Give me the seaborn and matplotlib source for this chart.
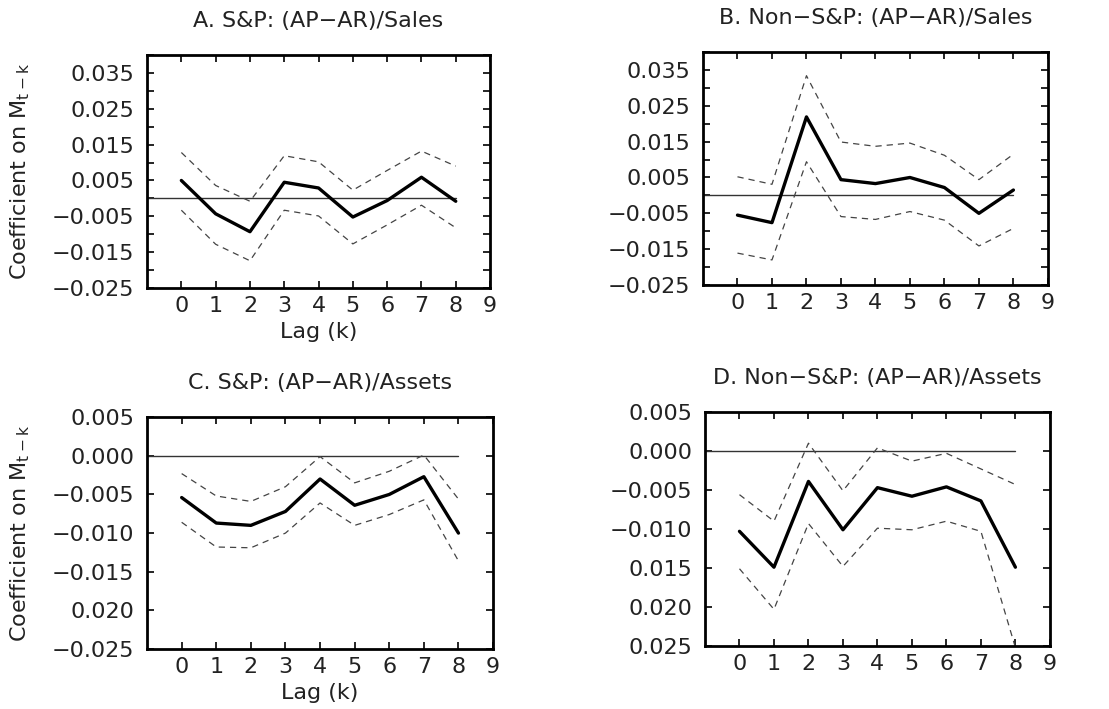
import numpy as np
import pandas as pd
import matplotlib
matplotlib.use("Agg")
import matplotlib.pyplot as plt
import seaborn as sns

sns.set_style("ticks")
plt.rcParams['font.family'] = ['DejaVu Sans']
plt.rcParams['mathtext.default'] = 'regular'

lags = [0, 1, 2, 3, 4, 5, 6, 7, 8]

# Panel A: S&P (AP-AR)/Sales
a_coef = [0.0050, -0.0043, -0.0093, 0.0045, 0.0029, -0.0052, -0.0006, 0.0059, -0.0008]
a_up = [0.0128, 0.0036, -0.0008, 0.0119, 0.0102, 0.0023, 0.0078, 0.0132, 0.0090]
a_lo = [-0.0033, -0.0128, -0.0174, -0.0033, -0.0049, -0.0127, -0.0074, -0.0019, -0.0082]

# Panel B: Non-S&P (AP-AR)/Sales
b_coef = [-0.0055, -0.0076, 0.0219, 0.0044, 0.0033, 0.0050, 0.0022, -0.0050, 0.0015]
b_up = [0.0052, 0.0031, 0.0334, 0.0149, 0.0137, 0.0146, 0.0112, 0.0044, 0.0115]
b_lo = [-0.0161, -0.0180, 0.0094, -0.0059, -0.0067, -0.0045, -0.0069, -0.0141, -0.0092]

# Panel C: S&P (AP-AR)/Assets
c_coef = [-0.0054, -0.0087, -0.0090, -0.0072, -0.0030, -0.0064, -0.0050, -0.0027, -0.0100]
c_up = [-0.0023, -0.0052, -0.0059, -0.0040, -0.0001, -0.0035, -0.0020, 0.0001, -0.0056]
c_lo = [-0.0086, -0.0118, -0.0119, -0.0100, -0.0061, -0.0090, -0.0076, -0.0057, -0.0136]

# Panel D: Non-S&P (AP-AR)/Assets
d_coef = [-0.0103, -0.0149, -0.0039, -0.0101, -0.0047, -0.0058, -0.0046, -0.0064, -0.0149]
d_up = [-0.0056, -0.0090, 0.0010, -0.0051, 0.0004, -0.0013, -0.0003, -0.0023, -0.0043]
d_lo = [-0.0151, -0.0203, -0.0093, -0.0148, -0.0099, -0.0101, -0.0090, -0.0103, -0.0252]

titles = ["A. S&P: (AP\u2212AR)/Sales", "B. Non\u2212S&P: (AP\u2212AR)/Sales",
          "C. S&P: (AP\u2212AR)/Assets", "D. Non\u2212S&P: (AP\u2212AR)/Assets"]

top_ticks = [0.035, 0.025, 0.015, 0.005, -0.005, -0.015, -0.025]
top_labels = ["0.035", "0.025", "0.015", "0.005", "\u22120.005", "\u22120.015", "\u22120.025"]
c_ticks = [0.005, 0.0, -0.005, -0.010, -0.015, -0.020, -0.025]
c_labels = ["0.005", "0.000", "\u22120.005", "\u22120.010", "\u22120.015", "0.020", "\u22120.025"]
d_labels = ["0.005", "0.000", "\u22120.005", "\u22120.010", "0.015", "0.020", "0.025"]
x_ticks = [0, 1, 2, 3, 4, 5, 6, 7, 8, 9]

fig = plt.figure(figsize=(11.09, 7.09), dpi=100)
positions = [
    [0.1326, 0.5938, 0.3093, 0.3286],
    [0.6339, 0.5980, 0.3110, 0.3286],
    [0.1326, 0.0846, 0.3120, 0.3270],
    [0.6357, 0.0889, 0.3110, 0.3300],
]
panels = [
    (a_coef, a_up, a_lo, (-0.025, 0.040), top_ticks, top_labels, np.arange(-0.025, 0.0401, 0.005), True, True),
    (b_coef, b_up, b_lo, (-0.025, 0.040), top_ticks, top_labels, np.arange(-0.025, 0.0401, 0.005), False, False),
    (c_coef, c_up, c_lo, (-0.025, 0.005), c_ticks, c_labels, None, True, True),
    (d_coef, d_up, d_lo, (-0.025, 0.005), c_ticks, d_labels, None, False, False),
]

tc = "#222222"
for i, (coef, up, lo, ylim, yt, yl, yminor, show_ylab, show_xlab) in enumerate(panels):
    ax = fig.add_axes(positions[i])
    df = pd.DataFrame({"lag": lags, "coef": coef, "up": up, "lo": lo})
    ax.plot([-1, 8], [0, 0], color="#333333", lw=1.0)
    sns.lineplot(data=df, x="lag", y="up", ax=ax, color="#444444", lw=0.9,
                 linestyle=(0, (5, 4)))
    sns.lineplot(data=df, x="lag", y="lo", ax=ax, color="#444444", lw=0.9,
                 linestyle=(0, (5, 4)))
    sns.lineplot(data=df, x="lag", y="coef", ax=ax, color="black", lw=2.4)
    ax.set_xlim(-1, 9)
    ax.set_ylim(*ylim)
    ax.set_xticks(x_ticks)
    ax.set_xticklabels([str(v) for v in x_ticks], fontsize=16, color=tc)
    ax.set_yticks(yt)
    ax.set_yticklabels(yl, fontsize=16, color=tc)
    if yminor is not None:
        ax.set_yticks(yminor, minor=True)
    ax.tick_params(axis="both", which="both", direction="in", top=True, right=True,
                   length=5, width=1.2, color="black")
    ax.tick_params(axis="x", pad=6)
    ax.tick_params(axis="y", pad=9)
    for sp in ax.spines.values():
        sp.set_visible(True)
        sp.set_linewidth(2.0)
        sp.set_color("black")
    ax.set_title(titles[i], fontsize=16, color=tc, pad=20)
    if show_xlab:
        ax.set_xlabel("Lag (k)", fontsize=16, color=tc, labelpad=4)
    else:
        ax.set_xlabel("")
    if show_ylab:
        ax.set_ylabel("Coefficient on M$_{t-k}$", fontsize=16, color=tc, labelpad=14)
    else:
        ax.set_ylabel("")

fig.savefig("out.png", dpi=100, facecolor="white")
